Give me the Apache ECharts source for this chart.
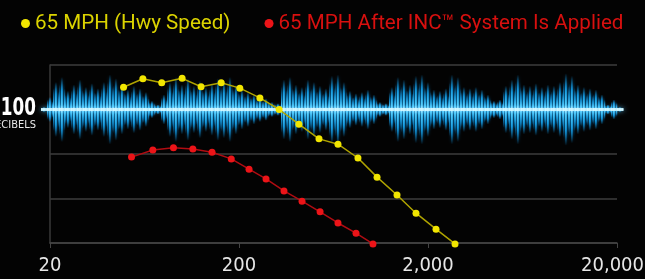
<!DOCTYPE html>
<html>
<head>
<meta charset="utf-8">
<script src="https://cdn.jsdelivr.net/npm/echarts@6/dist/echarts.min.js"></script>
<style>
  html, body { margin: 0; padding: 0; background: #030303; }
  #main { width: 645px; height: 279px; }
</style>
</head>
<body>
<div id="main"></div>
<script type="text/javascript">
// frequencies (Hz) and levels (dB)
var hwyFreq = [49, 62, 78, 100, 126, 161, 202, 258, 326, 415, 530, 668, 852, 1075, 1371, 1728, 2205, 2780];
var hwyDb   = [105.0, 106.9, 106.0, 107.0, 105.1, 106.0, 104.8, 102.6, 100.0, 96.7, 93.4, 92.2, 89.1, 84.8, 80.8, 76.7, 73.1, 69.8];
var incFreq = [54, 70, 90, 114, 144, 182, 226, 278, 346, 431, 537, 668, 832, 1023];
var incDb   = [89.3, 90.9, 91.4, 91.1, 90.4, 88.9, 86.6, 84.4, 81.7, 79.4, 77.0, 74.5, 72.2, 69.8];
var freqTicks = ['20', '200', '2,000', '20,000'];
var seriesNames = ['65 MPH (Hwy Speed)', '65 MPH After INC\u2122 System Is Applied'];

// envelope of the blue sound wave behind the chart (half height, px)
var waveAmp = [2, 10, 22, 26, 15, 20, 24, 18, 21, 17, 22, 28, 25, 20, 16, 19, 17, 14, 7, 4,
  12, 22, 26, 20, 25, 19, 23, 18, 21, 25, 23, 26, 20, 16, 14, 12, 10, 9, 6, 5,
  24, 26, 20, 18, 24, 22, 19, 17, 27, 28, 22, 15, 13, 14, 16, 12, 6, 5, 18, 26,
  24, 20, 27, 28, 22, 16, 15, 17, 28, 26, 18, 17, 18, 16, 12, 7, 8, 19, 24, 28,
  20, 19, 21, 18, 20, 19, 22, 29, 27, 20, 18, 17, 16, 12, 4, 8, 2];

var myChart = echarts.init(document.getElementById('main'));

function pairs(f, d) {
    var out = [];
    for (var i = 0; i < f.length; i++) out.push([f[i] / 20, d[i]]);
    return out;
}

function streakGrad(a) {
    return new echarts.graphic.LinearGradient(0, 0, 0, 1, [
        {offset: 0, color: 'rgba(20,160,240,0)'},
        {offset: 0.22, color: 'rgba(25,170,245,' + a + ')'},
        {offset: 0.44, color: 'rgba(90,210,255,1)'},
        {offset: 0.5, color: 'rgba(230,252,255,1)'},
        {offset: 0.56, color: 'rgba(90,210,255,1)'},
        {offset: 0.78, color: 'rgba(25,170,245,' + a + ')'},
        {offset: 1, color: 'rgba(20,160,240,0)'}
    ]);
}

function waveItem(params, api) {
    var idx = api.value(0);
    var amp = api.value(1);
    var c = api.coord([idx, 0]);
    var t = api.coord([idx, amp]);
    var h = c[1] - t[1];
    var w = api.size([1, 0])[0];
    var glow = new echarts.graphic.LinearGradient(0, 0, 0, 1, [
        {offset: 0, color: 'rgba(0,130,220,0)'},
        {offset: 0.4, color: 'rgba(20,150,235,0.35)'},
        {offset: 0.5, color: 'rgba(120,215,255,0.8)'},
        {offset: 0.6, color: 'rgba(20,150,235,0.35)'},
        {offset: 1, color: 'rgba(0,130,220,0)'}
    ]);
    return {
        type: 'group',
        children: [
            {type: 'rect', shape: {x: c[0] - w / 2, y: c[1] - h, width: w, height: 2 * h},
             style: {fill: glow}},
            {type: 'rect', shape: {x: c[0] - 1, y: c[1] - h * 1.25, width: 1.8, height: 2.5 * h},
             style: {fill: streakGrad(0.85), shadowBlur: 3, shadowColor: 'rgba(0,160,255,0.8)'}},
            {type: 'rect', shape: {x: c[0] + w / 3, y: c[1] - h * 0.8, width: 1.3, height: 1.6 * h},
             style: {fill: streakGrad(0.7)}},
            {type: 'rect', shape: {x: c[0] - w / 3 - 1, y: c[1] - h * 0.95, width: 1.2, height: 1.9 * h},
             style: {fill: streakGrad(0.6)}},
            {type: 'rect', shape: {x: c[0] - w / 2, y: c[1] - 1.5, width: w + 0.5, height: 3},
             style: {fill: 'rgba(215,248,255,0.9)', shadowBlur: 5, shadowColor: 'rgba(90,200,255,0.9)'}}
        ]
    };
}

var labelFont = "'DejaVu Sans Condensed', 'Liberation Sans Narrow', sans-serif";

var option = {
    backgroundColor: '#030303',
    animation: false,
    legend: {
        left: 16,
        top: 8,
        icon: 'circle',
        itemWidth: 9,
        itemHeight: 9,
        itemGap: 34,
        textStyle: {fontFamily: 'Roboto', fontSize: 20.6},
        data: [
            {name: seriesNames[0], textStyle: {color: '#dcd400'}},
            {name: seriesNames[1], textStyle: {color: '#d8100f'}}
        ]
    },
    grid: [
        {left: 50, right: 28, top: 65, bottom: 36, outerBoundsMode: 'none', containLabel: false},
        {left: 44, right: 25, top: 65, bottom: 125, outerBoundsMode: 'none', containLabel: false}
    ],
    xAxis: [
        {
            type: 'log',
            logBase: 10,
            min: 1,
            max: 1000,
            gridIndex: 0,
            axisLine: {lineStyle: {color: '#444', width: 1.5}},
            axisTick: {show: true, length: 5, lineStyle: {color: '#444'}},
            splitLine: {show: false},
            axisLabel: {
                color: '#e6e6e6',
                fontFamily: labelFont,
                fontSize: 20,
                margin: 13,
                formatter: function (v) {
                    var i = Math.round(Math.log10(v));
                    return i === 3 ? '{last|' + freqTicks[i] + '}' : freqTicks[i];
                },
                rich: {
                    last: {color: '#e6e6e6', fontFamily: labelFont, fontSize: 20, padding: [0, 9, 0, 0]}
                }
            }
        },
        {
            type: 'category',
            gridIndex: 1,
            boundaryGap: false,
            data: waveAmp.map(function (v, i) { return i; }),
            show: false
        }
    ],
    yAxis: [
        {
            type: 'value',
            gridIndex: 0,
            min: 70,
            max: 110,
            interval: 10,
            axisLine: {show: true, lineStyle: {color: '#3a3a3a', width: 1.5}},
            axisTick: {show: false},
            axisLabel: {show: false},
            splitLine: {lineStyle: {color: '#2e2e2e', width: 2}}
        },
        {
            type: 'value',
            gridIndex: 1,
            min: -44.5,
            max: 44.5,
            show: false
        }
    ],
    graphic: [
        {type: 'text', x: 36, y: 97, scaleX: 0.78, z: 10,
         style: {text: '100', fill: '#ffffff', font: "bold 24px " + labelFont, textAlign: 'right'}},
        {type: 'text', x: 36, y: 120, z: 10,
         style: {text: 'DECIBELS', fill: '#e8e8e8', font: "11px " + labelFont, textAlign: 'right'}}
    ],
    series: [
        {
            type: 'custom',
            xAxisIndex: 1,
            yAxisIndex: 1,
            z: 1,
            silent: true,
            renderItem: waveItem,
            data: waveAmp.map(function (v, i) { return [i, v]; })
        },
        {
            name: seriesNames[0],
            type: 'line',
            z: 5,
            clip: false,
            symbol: 'circle',
            symbolSize: 7,
            itemStyle: {color: '#f2e600'},
            lineStyle: {color: '#b0a400', width: 1.5},
            data: pairs(hwyFreq, hwyDb)
        },
        {
            name: seriesNames[1],
            type: 'line',
            z: 5,
            clip: false,
            symbol: 'circle',
            symbolSize: 7,
            itemStyle: {color: '#ec1418'},
            lineStyle: {color: '#b00c12', width: 1.5},
            data: pairs(incFreq, incDb)
        }
    ]
};

myChart.setOption(option);
</script>
</body>
</html>
